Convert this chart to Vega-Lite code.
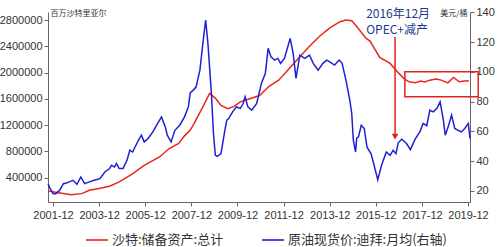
{
  "$schema": "https://vega.github.io/schema/vega-lite/v6.json",
  "width": 422,
  "height": 190,
  "autosize": {"type": "none"},
  "padding": {"left": 48, "top": 12, "right": 30, "bottom": 45},
  "background": "white",
  "config": {
    "view": {"stroke": null},
    "font": "Noto Sans CJK SC",
    "axis": {
      "labelFont": "Liberation Sans",
      "labelFontSize": 11,
      "labelColor": "#333333",
      "domainColor": "#666666",
      "tickColor": "#666666",
      "grid": false,
      "tickSize": 4,
      "labelPadding": 2,
      "titleFont": "Noto Sans CJK SC",
      "titleFontSize": 8,
      "titleFontWeight": "normal",
      "titleColor": "#333333"
    },
    "legend": {
      "labelFont": "Noto Sans CJK SC",
      "labelFontSize": 13,
      "labelColor": "#333333",
      "labelLimit": 400
    }
  },
  "datasets": {
    "reserves": [
      {"date": "2001-09-15", "value": 195000, "series": "沙特:储备资产:总计"},
      {"date": "2002-03-01", "value": 170000, "series": "沙特:储备资产:总计"},
      {"date": "2002-09-15", "value": 140000, "series": "沙特:储备资产:总计"},
      {"date": "2003-03-01", "value": 155000, "series": "沙特:储备资产:总计"},
      {"date": "2003-07-01", "value": 206000, "series": "沙特:储备资产:总计"},
      {"date": "2003-12-01", "value": 232000, "series": "沙特:储备资产:总计"},
      {"date": "2004-05-15", "value": 267000, "series": "沙特:储备资产:总计"},
      {"date": "2004-10-15", "value": 333000, "series": "沙特:储备资产:总计"},
      {"date": "2005-05-01", "value": 450000, "series": "沙特:储备资产:总计"},
      {"date": "2005-11-15", "value": 585000, "series": "沙特:储备资产:总计"},
      {"date": "2006-07-15", "value": 714000, "series": "沙特:储备资产:总计"},
      {"date": "2006-12-15", "value": 842000, "series": "沙特:储备资产:总计"},
      {"date": "2007-05-15", "value": 919000, "series": "沙特:储备资产:总计"},
      {"date": "2007-08-15", "value": 1035000, "series": "沙特:储备资产:总计"},
      {"date": "2007-11-15", "value": 1122000, "series": "沙特:储备资产:总计"},
      {"date": "2008-01-15", "value": 1224000, "series": "沙特:储备资产:总计"},
      {"date": "2008-06-01", "value": 1477000, "series": "沙特:储备资产:总计"},
      {"date": "2008-09-15", "value": 1682000, "series": "沙特:储备资产:总计"},
      {"date": "2008-12-15", "value": 1610000, "series": "沙特:储备资产:总计"},
      {"date": "2009-03-15", "value": 1500000, "series": "沙特:储备资产:总计"},
      {"date": "2009-07-01", "value": 1450000, "series": "沙特:储备资产:总计"},
      {"date": "2009-10-01", "value": 1480000, "series": "沙特:储备资产:总计"},
      {"date": "2010-01-15", "value": 1553000, "series": "沙特:储备资产:总计"},
      {"date": "2010-06-15", "value": 1600000, "series": "沙特:储备资产:总计"},
      {"date": "2010-11-15", "value": 1650000, "series": "沙特:储备资产:总计"},
      {"date": "2011-04-15", "value": 1790000, "series": "沙特:储备资产:总计"},
      {"date": "2011-09-15", "value": 1884000, "series": "沙特:储备资产:总计"},
      {"date": "2012-03-01", "value": 2060000, "series": "沙特:储备资产:总计"},
      {"date": "2012-08-15", "value": 2240000, "series": "沙特:储备资产:总计"},
      {"date": "2013-01-15", "value": 2400000, "series": "沙特:储备资产:总计"},
      {"date": "2013-06-15", "value": 2545000, "series": "沙特:储备资产:总计"},
      {"date": "2013-12-01", "value": 2680000, "series": "沙特:储备资产:总计"},
      {"date": "2014-05-15", "value": 2774000, "series": "沙特:储备资产:总计"},
      {"date": "2014-08-15", "value": 2800000, "series": "沙特:储备资产:总计"},
      {"date": "2014-11-15", "value": 2790000, "series": "沙特:储备资产:总计"},
      {"date": "2015-02-01", "value": 2700000, "series": "沙特:储备资产:总计"},
      {"date": "2015-07-01", "value": 2520000, "series": "沙特:储备资产:总计"},
      {"date": "2015-09-01", "value": 2480000, "series": "沙特:储备资产:总计"},
      {"date": "2015-11-01", "value": 2380000, "series": "沙特:储备资产:总计"},
      {"date": "2016-02-01", "value": 2230000, "series": "沙特:储备资产:总计"},
      {"date": "2016-07-15", "value": 2139000, "series": "沙特:储备资产:总计"},
      {"date": "2016-12-01", "value": 1987000, "series": "沙特:储备资产:总计"},
      {"date": "2017-03-01", "value": 1900000, "series": "沙特:储备资产:总计"},
      {"date": "2017-05-15", "value": 1859000, "series": "沙特:储备资产:总计"},
      {"date": "2017-08-15", "value": 1843000, "series": "沙特:储备资产:总计"},
      {"date": "2017-11-15", "value": 1869000, "series": "沙特:储备资产:总计"},
      {"date": "2018-01-15", "value": 1855000, "series": "沙特:储备资产:总计"},
      {"date": "2018-04-01", "value": 1884000, "series": "沙特:储备资产:总计"},
      {"date": "2018-07-15", "value": 1900000, "series": "沙特:储备资产:总计"},
      {"date": "2018-10-01", "value": 1884000, "series": "沙特:储备资产:总计"},
      {"date": "2019-01-15", "value": 1843000, "series": "沙特:储备资产:总计"},
      {"date": "2019-04-15", "value": 1926000, "series": "沙特:储备资产:总计"},
      {"date": "2019-07-15", "value": 1859000, "series": "沙特:储备资产:总计"},
      {"date": "2019-10-01", "value": 1870000, "series": "沙特:储备资产:总计"},
      {"date": "2019-12-15", "value": 1874000, "series": "沙特:储备资产:总计"}
    ],
    "oil": [
      {"date": "2001-09-14", "value": 24.8, "series": "原油现货价:迪拜:月均(右轴)"},
      {"date": "2001-10-15", "value": 21.7, "series": "原油现货价:迪拜:月均(右轴)"},
      {"date": "2001-12-05", "value": 18.1, "series": "原油现货价:迪拜:月均(右轴)"},
      {"date": "2002-01-15", "value": 18.1, "series": "原油现货价:迪拜:月均(右轴)"},
      {"date": "2002-03-15", "value": 20.3, "series": "原油现货价:迪拜:月均(右轴)"},
      {"date": "2002-05-15", "value": 24.8, "series": "原油现货价:迪拜:月均(右轴)"},
      {"date": "2002-07-01", "value": 25.3, "series": "原油现货价:迪拜:月均(右轴)"},
      {"date": "2002-08-15", "value": 26.0, "series": "原油现货价:迪拜:月均(右轴)"},
      {"date": "2002-10-15", "value": 27.1, "series": "原油现货价:迪拜:月均(右轴)"},
      {"date": "2002-12-15", "value": 24.4, "series": "原油现货价:迪拜:月均(右轴)"},
      {"date": "2003-02-15", "value": 29.3, "series": "原油现货价:迪拜:月均(右轴)"},
      {"date": "2003-04-15", "value": 24.8, "series": "原油现货价:迪拜:月均(右轴)"},
      {"date": "2003-07-01", "value": 26.0, "series": "原油现货价:迪拜:月均(右轴)"},
      {"date": "2003-09-15", "value": 27.1, "series": "原油现货价:迪拜:月均(右轴)"},
      {"date": "2003-12-15", "value": 28.2, "series": "原油现货价:迪拜:月均(右轴)"},
      {"date": "2004-03-01", "value": 32.7, "series": "原油现货价:迪拜:月均(右轴)"},
      {"date": "2004-05-15", "value": 35.0, "series": "原油现货价:迪拜:月均(右轴)"},
      {"date": "2004-06-15", "value": 37.2, "series": "原油现货价:迪拜:月均(右轴)"},
      {"date": "2004-08-01", "value": 36.0, "series": "原油现货价:迪拜:月均(右轴)"},
      {"date": "2004-09-01", "value": 38.3, "series": "原油现货价:迪拜:月均(右轴)"},
      {"date": "2004-10-15", "value": 35.0, "series": "原油现货价:迪拜:月均(右轴)"},
      {"date": "2004-12-15", "value": 35.0, "series": "原油现货价:迪拜:月均(右轴)"},
      {"date": "2005-02-15", "value": 40.5, "series": "原油现货价:迪拜:月均(右轴)"},
      {"date": "2005-04-01", "value": 47.3, "series": "原油现货价:迪拜:月均(右轴)"},
      {"date": "2005-05-15", "value": 46.1, "series": "原油现货价:迪拜:月均(右轴)"},
      {"date": "2005-08-15", "value": 54.0, "series": "原油现货价:迪拜:月均(右轴)"},
      {"date": "2005-10-01", "value": 57.4, "series": "原油现货价:迪拜:月均(右轴)"},
      {"date": "2005-11-15", "value": 52.9, "series": "原油现货价:迪拜:月均(右轴)"},
      {"date": "2006-01-15", "value": 55.2, "series": "原油现货价:迪拜:月均(右轴)"},
      {"date": "2006-04-01", "value": 59.6, "series": "原油现货价:迪拜:月均(右轴)"},
      {"date": "2006-05-15", "value": 63.0, "series": "原油现货价:迪拜:月均(右轴)"},
      {"date": "2006-08-15", "value": 69.7, "series": "原油现货价:迪拜:月均(右轴)"},
      {"date": "2006-10-15", "value": 63.0, "series": "原油现货价:迪拜:月均(右轴)"},
      {"date": "2006-11-15", "value": 57.4, "series": "原油现货价:迪拜:月均(右轴)"},
      {"date": "2007-01-15", "value": 52.9, "series": "原油现货价:迪拜:月均(右轴)"},
      {"date": "2007-03-15", "value": 60.7, "series": "原油现货价:迪拜:月均(右轴)"},
      {"date": "2007-06-01", "value": 64.1, "series": "原油现货价:迪拜:月均(右轴)"},
      {"date": "2007-08-15", "value": 69.7, "series": "原油现货价:迪拜:月均(右轴)"},
      {"date": "2007-10-15", "value": 76.4, "series": "原油现货价:迪拜:月均(右轴)"},
      {"date": "2007-11-15", "value": 86.0, "series": "原油现货价:迪拜:月均(右轴)"},
      {"date": "2008-01-01", "value": 87.7, "series": "原油现货价:迪拜:月均(右轴)"},
      {"date": "2008-02-15", "value": 89.9, "series": "原油现货价:迪拜:月均(右轴)"},
      {"date": "2008-04-15", "value": 101.1, "series": "原油现货价:迪拜:月均(右轴)"},
      {"date": "2008-06-01", "value": 119.1, "series": "原油现货价:迪拜:月均(右轴)"},
      {"date": "2008-07-15", "value": 134.8, "series": "原油现货价:迪拜:月均(右轴)"},
      {"date": "2008-08-20", "value": 119.1, "series": "原油现货价:迪拜:月均(右轴)"},
      {"date": "2008-10-15", "value": 85.0, "series": "原油现货价:迪拜:月均(右轴)"},
      {"date": "2008-11-15", "value": 59.0, "series": "原油现货价:迪拜:月均(右轴)"},
      {"date": "2008-12-15", "value": 44.0, "series": "原油现货价:迪拜:月均(右轴)"},
      {"date": "2009-01-15", "value": 43.2, "series": "原油现货价:迪拜:月均(右轴)"},
      {"date": "2009-03-15", "value": 45.0, "series": "原油现货价:迪拜:月均(右轴)"},
      {"date": "2009-05-15", "value": 60.7, "series": "原油现货价:迪拜:月均(右轴)"},
      {"date": "2009-06-15", "value": 67.5, "series": "原油现货价:迪拜:月均(右轴)"},
      {"date": "2009-07-15", "value": 68.6, "series": "原油现货价:迪拜:月均(右轴)"},
      {"date": "2009-09-15", "value": 73.1, "series": "原油现货价:迪拜:月均(右轴)"},
      {"date": "2009-11-15", "value": 76.4, "series": "原油现货价:迪拜:月均(右轴)"},
      {"date": "2010-01-15", "value": 75.4, "series": "原油现货价:迪拜:月均(右轴)"},
      {"date": "2010-03-01", "value": 78.7, "series": "原油现货价:迪拜:月均(右轴)"},
      {"date": "2010-04-01", "value": 83.2, "series": "原油现货价:迪拜:月均(右轴)"},
      {"date": "2010-05-15", "value": 76.4, "series": "原油现货价:迪拜:月均(右轴)"},
      {"date": "2010-07-15", "value": 74.2, "series": "原油现货价:迪拜:月均(右轴)"},
      {"date": "2010-10-01", "value": 78.7, "series": "原油现货价:迪拜:月均(右轴)"},
      {"date": "2010-12-15", "value": 92.2, "series": "原油现货价:迪拜:月均(右轴)"},
      {"date": "2011-02-15", "value": 98.9, "series": "原油现货价:迪拜:月均(右轴)"},
      {"date": "2011-04-01", "value": 115.8, "series": "原油现货价:迪拜:月均(右轴)"},
      {"date": "2011-05-15", "value": 110.1, "series": "原油现货价:迪拜:月均(右轴)"},
      {"date": "2011-07-15", "value": 107.9, "series": "原油现货价:迪拜:月均(右轴)"},
      {"date": "2011-09-01", "value": 109.0, "series": "原油现货价:迪拜:月均(右轴)"},
      {"date": "2011-10-15", "value": 105.7, "series": "原油现货价:迪拜:月均(右轴)"},
      {"date": "2011-12-15", "value": 109.0, "series": "原油现货价:迪拜:月均(右轴)"},
      {"date": "2012-03-15", "value": 122.5, "series": "原油现货价:迪拜:月均(右轴)"},
      {"date": "2012-05-01", "value": 112.4, "series": "原油现货价:迪拜:月均(右轴)"},
      {"date": "2012-06-15", "value": 95.6, "series": "原油现货价:迪拜:月均(右轴)"},
      {"date": "2012-08-15", "value": 111.2, "series": "原油现货价:迪拜:月均(右轴)"},
      {"date": "2012-11-01", "value": 109.0, "series": "原油现货价:迪拜:月均(右轴)"},
      {"date": "2013-01-15", "value": 111.2, "series": "原油现货价:迪拜:月均(右轴)"},
      {"date": "2013-03-15", "value": 105.7, "series": "原油现货价:迪拜:月均(右轴)"},
      {"date": "2013-06-01", "value": 101.1, "series": "原油现货价:迪拜:月均(右轴)"},
      {"date": "2013-08-15", "value": 105.7, "series": "原油现货价:迪拜:月均(右轴)"},
      {"date": "2013-10-15", "value": 107.9, "series": "原油现货价:迪拜:月均(右轴)"},
      {"date": "2013-12-01", "value": 106.7, "series": "原油现货价:迪拜:月均(右轴)"},
      {"date": "2014-02-15", "value": 104.5, "series": "原油现货价:迪拜:月均(右轴)"},
      {"date": "2014-05-01", "value": 107.9, "series": "原油现货价:迪拜:月均(右轴)"},
      {"date": "2014-06-15", "value": 105.7, "series": "原油现货价:迪拜:月均(右轴)"},
      {"date": "2014-08-15", "value": 94.4, "series": "原油现货价:迪拜:月均(右轴)"},
      {"date": "2014-10-15", "value": 81.0, "series": "原油现货价:迪拜:月均(右轴)"},
      {"date": "2014-11-15", "value": 72.0, "series": "原油现货价:迪拜:月均(右轴)"},
      {"date": "2014-12-10", "value": 54.0, "series": "原油现货价:迪拜:月均(右轴)"},
      {"date": "2015-01-15", "value": 46.1, "series": "原油现货价:迪拜:月均(右轴)"},
      {"date": "2015-02-01", "value": 55.4, "series": "原油现货价:迪拜:月均(右轴)"},
      {"date": "2015-03-01", "value": 56.2, "series": "原油现货价:迪拜:月均(右轴)"},
      {"date": "2015-04-15", "value": 64.1, "series": "原油现货价:迪拜:月均(右轴)"},
      {"date": "2015-06-01", "value": 61.9, "series": "原油现货价:迪拜:月均(右轴)"},
      {"date": "2015-07-15", "value": 49.3, "series": "原油现货价:迪拜:月均(右轴)"},
      {"date": "2015-09-15", "value": 45.0, "series": "原油现货价:迪拜:月均(右轴)"},
      {"date": "2015-10-15", "value": 40.5, "series": "原油现货价:迪拜:月均(右轴)"},
      {"date": "2016-01-01", "value": 27.5, "series": "原油现货价:迪拜:月均(右轴)"},
      {"date": "2016-03-01", "value": 37.2, "series": "原油现货价:迪拜:月均(右轴)"},
      {"date": "2016-05-15", "value": 46.1, "series": "原油现货价:迪拜:月均(右轴)"},
      {"date": "2016-07-15", "value": 43.9, "series": "原油现货价:迪拜:月均(右轴)"},
      {"date": "2016-09-01", "value": 47.3, "series": "原油现货价:迪拜:月均(右轴)"},
      {"date": "2016-10-15", "value": 45.0, "series": "原油现货价:迪拜:月均(右轴)"},
      {"date": "2016-11-20", "value": 52.3, "series": "原油现货价:迪拜:月均(右轴)"},
      {"date": "2017-01-15", "value": 54.7, "series": "原油现货价:迪拜:月均(右轴)"},
      {"date": "2017-04-01", "value": 51.8, "series": "原油现货价:迪拜:月均(右轴)"},
      {"date": "2017-06-01", "value": 47.7, "series": "原油现货价:迪拜:月均(右轴)"},
      {"date": "2017-08-15", "value": 54.7, "series": "原油现货价:迪拜:月均(右轴)"},
      {"date": "2017-10-30", "value": 59.7, "series": "原油现货价:迪拜:月均(右轴)"},
      {"date": "2017-12-20", "value": 65.3, "series": "原油现货价:迪拜:月均(右轴)"},
      {"date": "2018-02-15", "value": 63.8, "series": "原油现货价:迪拜:月均(右轴)"},
      {"date": "2018-04-05", "value": 74.2, "series": "原油现货价:迪拜:月均(右轴)"},
      {"date": "2018-05-30", "value": 73.1, "series": "原油现货价:迪拜:月均(右轴)"},
      {"date": "2018-07-25", "value": 75.4, "series": "原油现货价:迪拜:月均(右轴)"},
      {"date": "2018-09-15", "value": 79.8, "series": "原油现货价:迪拜:月均(右轴)"},
      {"date": "2018-11-05", "value": 67.5, "series": "原油现货价:迪拜:月均(右轴)"},
      {"date": "2018-12-05", "value": 57.4, "series": "原油现货价:迪拜:月均(右轴)"},
      {"date": "2019-01-20", "value": 63.0, "series": "原油现货价:迪拜:月均(右轴)"},
      {"date": "2019-03-15", "value": 70.8, "series": "原油现货价:迪拜:月均(右轴)"},
      {"date": "2019-05-05", "value": 61.9, "series": "原油现货价:迪拜:月均(右轴)"},
      {"date": "2019-06-25", "value": 60.7, "series": "原油现货价:迪拜:月均(右轴)"},
      {"date": "2019-08-20", "value": 59.6, "series": "原油现货价:迪拜:月均(右轴)"},
      {"date": "2019-10-10", "value": 61.9, "series": "原油现货价:迪拜:月均(右轴)"},
      {"date": "2019-12-05", "value": 65.3, "series": "原油现货价:迪拜:月均(右轴)"},
      {"date": "2020-01-01", "value": 55.2, "series": "原油现货价:迪拜:月均(右轴)"}
    ],
    "arrow": [
      {"date": "2016-10-01", "value": 123.4, "tip": 56.5}
    ],
    "box": [
      {"start": "2017-03-05", "end": "2020-05-10", "value": 83.2, "hi": 100.0}
    ],
    "notes": [
      {"date": "2015-07-01", "value": 138.9, "label": "2016年12月"},
      {"date": "2015-07-01", "value": 127.8, "label": "OPEC+减产"}
    ]
  },
  "layer": [
    {
      "data": {"name": "reserves"},
      "mark": {"type": "line", "strokeWidth": 1.5},
      "encoding": {
        "x": {
          "field": "date",
          "type": "temporal",
          "scale": {"domain": ["2001-09-13", "2020-01-01"]},
          "axis": {
            "title": null,
            "values": [
              {"year": 2001, "month": 12, "date": 1},
              {"year": 2002, "month": 12, "date": 1},
              {"year": 2003, "month": 12, "date": 1},
              {"year": 2004, "month": 12, "date": 1},
              {"year": 2005, "month": 12, "date": 1},
              {"year": 2006, "month": 12, "date": 1},
              {"year": 2007, "month": 12, "date": 1},
              {"year": 2008, "month": 12, "date": 1},
              {"year": 2009, "month": 12, "date": 1},
              {"year": 2010, "month": 12, "date": 1},
              {"year": 2011, "month": 12, "date": 1},
              {"year": 2012, "month": 12, "date": 1},
              {"year": 2013, "month": 12, "date": 1},
              {"year": 2014, "month": 12, "date": 1},
              {"year": 2015, "month": 12, "date": 1},
              {"year": 2016, "month": 12, "date": 1},
              {"year": 2017, "month": 12, "date": 1},
              {"year": 2018, "month": 12, "date": 1},
              {"year": 2019, "month": 12, "date": 1}
            ],
            "format": "%Y-%m",
            "labelExpr": "year(datum.value) % 2 == 1 ? datum.label : ''",
            "labelOverlap": false,
            "labelPadding": 3
          }
        },
        "y": {
          "field": "value",
          "type": "quantitative",
          "scale": {"domain": [27600, 2922000], "nice": false, "zero": false},
          "axis": {
            "orient": "left",
            "values": [400000, 800000, 1200000, 1600000, 2000000, 2400000, 2800000],
            "format": "d",
            "title": "百万沙特里亚尔",
            "titleAngle": 0,
            "titleAlign": "left",
            "titleBaseline": "middle",
            "titleX": 2,
            "titleY": 1
          }
        },
        "color": {
          "field": "series",
          "type": "nominal",
          "scale": {
            "domain": ["沙特:储备资产:总计", "原油现货价:迪拜:月均(右轴)"],
            "range": ["#e8261f", "#1f1fd4"]
          },
          "legend": {
            "title": null,
            "orient": "none",
            "legendX": 37,
            "legendY": 216,
            "direction": "horizontal",
            "symbolType": "stroke",
            "symbolSize": 484,
            "symbolStrokeWidth": 1.6,
            "columnPadding": 34,
            "labelOffset": 3,
            "labelLimit": 400
          }
        }
      }
    },
    {
      "layer": [
        {
          "data": {"name": "oil"},
          "mark": {"type": "line", "strokeWidth": 1.5},
          "encoding": {
            "x": {"field": "date", "type": "temporal"},
            "y": {
              "field": "value",
              "type": "quantitative",
              "scale": {"domain": [12.5, 140.2], "nice": false, "zero": false},
              "axis": {
                "orient": "right",
                "tickCount": 7,
                "labelOverlap": false,
                "labelFlush": false,
                "title": "美元/桶",
                "titleAngle": 0,
                "titleAlign": "right",
                "titleBaseline": "middle",
                "titleX": -3,
                "titleY": 1
              }
            },
            "color": {"field": "series", "type": "nominal"}
          }
        },
        {
          "data": {"name": "box"},
          "mark": {"type": "rect", "fillOpacity": 0, "stroke": "#e0221c", "strokeWidth": 1.5},
          "encoding": {
            "x": {"field": "start", "type": "temporal"},
            "x2": {"field": "end"},
            "y": {"field": "value", "type": "quantitative"},
            "y2": {"field": "hi"}
          }
        },
        {
          "data": {"name": "arrow"},
          "mark": {"type": "rule", "color": "#e0221c", "strokeWidth": 1.5},
          "encoding": {
            "x": {"field": "date", "type": "temporal"},
            "y": {"field": "value", "type": "quantitative"},
            "y2": {"field": "tip"}
          }
        },
        {
          "data": {"name": "arrow"},
          "mark": {"type": "point", "shape": "triangle-down", "filled": true, "color": "#e0221c", "size": 45, "opacity": 1},
          "encoding": {
            "x": {"field": "date", "type": "temporal"},
            "y": {"field": "tip", "type": "quantitative"}
          }
        },
        {
          "data": {"name": "notes"},
          "mark": {"type": "text", "align": "left", "baseline": "middle", "font": "Noto Sans CJK SC", "fontSize": 12, "color": "#1f3a8a"},
          "encoding": {
            "x": {"field": "date", "type": "temporal"},
            "y": {"field": "value", "type": "quantitative"},
            "text": {"field": "label"}
          }
        }
      ]
    }
  ],
  "resolve": {"scale": {"y": "independent"}}
}
